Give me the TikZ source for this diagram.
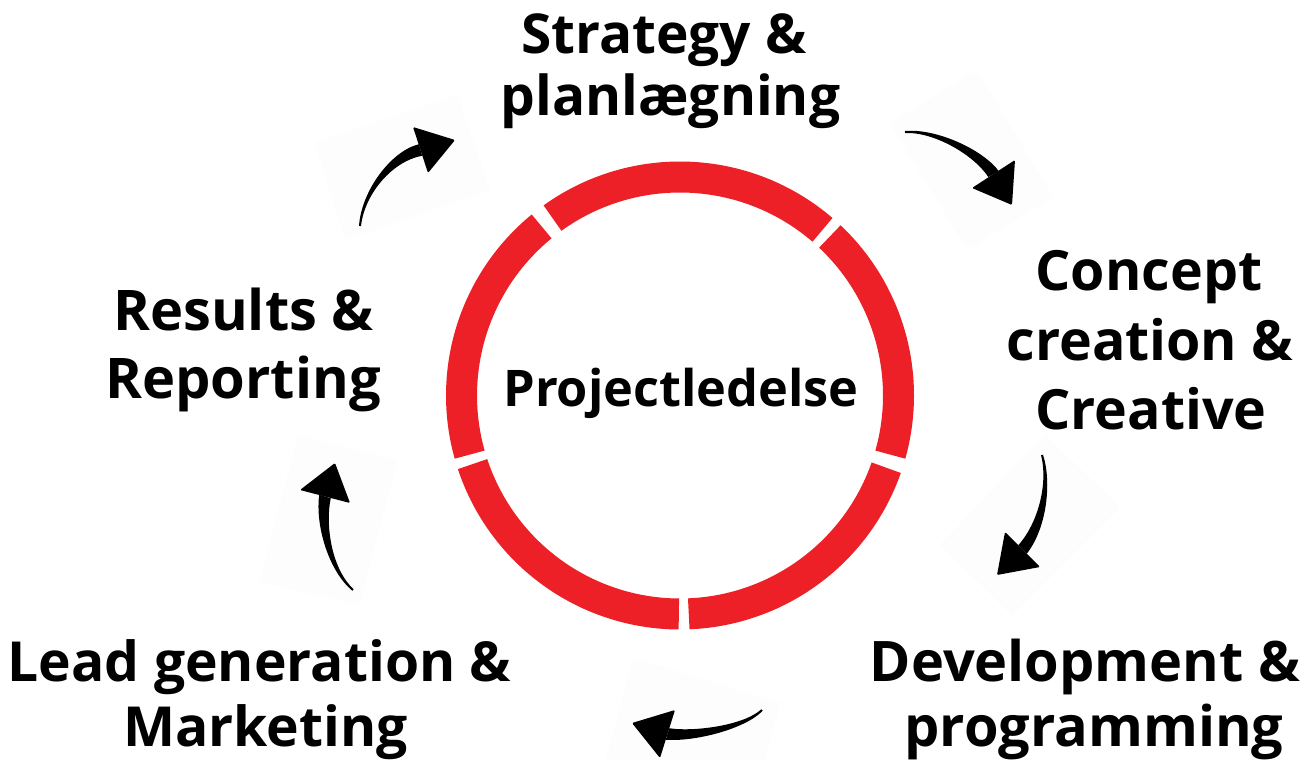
\documentclass[tikz,border=0pt]{standalone}
\usepackage{fontspec}
\setmainfont{Open Sans}
\usetikzlibrary{calc}
\definecolor{ringred}{RGB}{237,31,39}
\definecolor{faint}{RGB}{253,253,253}
\tikzset{
  lbl/.style={anchor=base, inner sep=0pt, font=\bfseries\fontsize{#1}{#1}\selectfont},
  seg/.style={draw=ringred, line width=31pt, line cap=butt},
  arrowfill/.style={fill=black},
  backsq/.style={fill=faint},
}
\newcommand\cyclearrow[7]{%
  \fill[arrowfill] ($#1!1pt!90:#2$) .. controls ($#2!2pt!90:#3$) and ($#3!5pt!90:#4$) .. ($#4!6pt!90:#5$)
     -- ($#4!6pt!-90:#5$) .. controls ($#3!5pt!-90:#4$) and ($#2!2pt!-90:#3$) .. ($#1!1pt!-90:#2$) -- cycle;
  \fill[arrowfill, rounded corners=1.2pt] #6 -- #5 -- #7 -- cycle;}
\begin{document}
\begin{tikzpicture}[x=1pt,y=-1pt]
\useasboundingbox[fill=white] (0,0) rectangle (1314,760);
% faint squares behind the arrows
\fill[backsq] (315,143) -- (457,95) -- (490,190) -- (345,240) -- cycle;
\fill[backsq] (890,123) -- (977,70) -- (1053,197) -- (967,250) -- cycle;
\fill[backsq] (1045,435) -- (1120,507) -- (1012,615) -- (940,545) -- cycle;
\fill[backsq] (633,658) -- (780,703) -- (765,760) -- (606,760) -- cycle;
\fill[backsq] (298,435) -- (397,460) -- (360,605) -- (260,582) -- cycle;
% ring
\coordinate (c) at (680,395.5);
\foreach \a/\b in {49.3/125.7, 129.3/195.7, 198.3/269.7, 272.3/340.7, 344.3/406.7}{
  \draw[seg] ($(c)+(-\a:218.5)$) arc[start angle=-\a, end angle=-\b, radius=218.5];
}
% centre text
\node[lbl=50.5] (pm) at (681,406) {Projectledelse};
% labels
\node[lbl=55] (s1) at (664,54) {Strategy \&};
\node[lbl=55] (s2) at (670.5,115) {planlægning};
\node[lbl=55.5] (c1) at (1149,290) {Concept};
\node[lbl=55.5] (c2) at (1150,360) {creation \&};
\node[lbl=55.5] (c3) at (1151,429) {Creative};
\node[lbl=55.9] (d1) at (1085,681) {Development \&};
\node[lbl=55.9] (d2) at (1094,746) {programming};
\node[lbl=55.2] (l1) at (259.5,681) {Lead generation \&};
\node[lbl=55.2] (l2) at (265.5,746) {Marketing};
\node[lbl=56] (r1) at (243.5,330) {Results \&};
\node[lbl=56] (r2) at (243,398) {Reporting};
% arrows
\cyclearrow{(360,226)}{(363,192)}{(392,156)}{(420.5,150)}{(455,140)}{(413,127)}{(428,173)}
\cyclearrow{(905,132)}{(935,130)}{(978,152)}{(993.5,174)}{(1012,205)}{(972,188)}{(1015,160)}
\cyclearrow{(1042,455)}{(1050,482)}{(1043,525)}{(1022.5,549.5)}{(997,575)}{(1040,567)}{(1005,532)}
\cyclearrow{(762,710)}{(745,727)}{(695,737)}{(667.5,734)}{(632,723)}{(660,758)}{(675,710)}
\cyclearrow{(353,590)}{(330,570)}{(320,525)}{(325,496.5)}{(335,463)}{(300,490)}{(350,503)}
\end{tikzpicture}
\end{document}
